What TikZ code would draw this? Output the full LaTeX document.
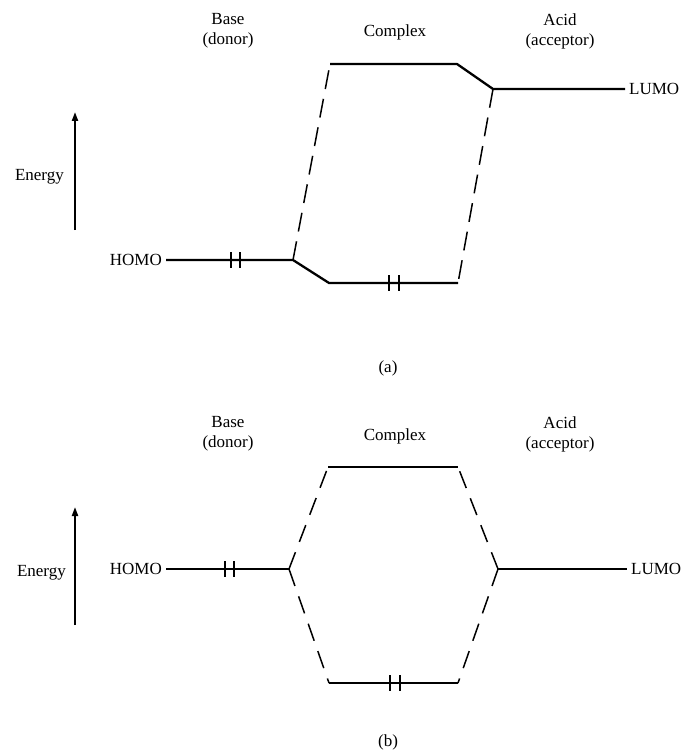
\documentclass[tikz,border=0pt]{standalone}
\usepackage{fontspec}
\setmainfont{Liberation Serif}
\usetikzlibrary{positioning,arrows.meta}
\tikzset{
  lbl/.style={font=\fontsize{17}{20}\selectfont, align=center, inner sep=1pt, text=black},
  endlbl/.style={lbl, inner sep=4pt},
  levelA/.style={line width=2.3pt, line join=round},
  levelB/.style={line width=1.8pt, line join=round},
  corrA/.style={dash pattern=on 19pt off 10pt, line width=1.5pt},
  corrB/.style={dash pattern=on 18pt off 11pt, line width=1.5pt},
  spin/.style={line width=1.6pt},
  up/.style={-{Triangle[length=9pt,width=6pt]}, line width=2pt},
}
\begin{document}
\begin{tikzpicture}[x=1pt,y=-1pt]
  \useasboundingbox (0,0) rectangle (690,751);
  % (a) weak interaction
  \node[lbl] (baseA) at (228,31) {Base\\(donor)};
  \node[lbl] (cplxA) at (395,32) {Complex};
  \node[lbl] (acidA) at (560,31) {Acid\\(acceptor)};
  \coordinate (eA0) at (75,230);
  \coordinate (eA1) at (75,112);
  \draw[up] (eA0) -- (eA1);
  \node[lbl, anchor=east] (enA) at (65,177) {Energy};
  \node[endlbl, anchor=east] (homoA) at (166,260) {HOMO};
  \node[endlbl, anchor=west] (lumoA) at (625,89) {LUMO};
  \coordinate (dA) at (293,260);
  \coordinate (bA1) at (329,283);
  \coordinate (bA2) at (458,283);
  \coordinate (tA1) at (330,64);
  \coordinate (tA2) at (457,64);
  \coordinate (aA) at (493,89);
  \draw[levelA] (homoA) -- (dA) -- (bA1) -- (bA2);
  \draw[levelA] (tA1) -- (tA2) -- (aA) -- (lumoA);
  \draw[corrA] (dA) -- (tA1);
  \draw[corrA] (aA) -- (bA2);
  \foreach \x in {231,240} \draw[spin] (\x,252) -- (\x,268);
  \foreach \x in {389,399} \draw[spin] (\x,275) -- (\x,291);
  \node[lbl] (capA) at (388,368) {(a)};
  % (b) strong interaction
  \node[lbl] (baseB) at (228,434) {Base\\(donor)};
  \node[lbl] (cplxB) at (395,436) {Complex};
  \node[lbl] (acidB) at (560,434) {Acid\\(acceptor)};
  \coordinate (eB0) at (75,625);
  \coordinate (eB1) at (75,507);
  \draw[up] (eB0) -- (eB1);
  \node[lbl, anchor=east] (enB) at (67,573) {Energy};
  \node[endlbl, anchor=east] (homoB) at (166,569) {HOMO};
  \node[endlbl, anchor=west] (lumoB) at (627,569) {LUMO};
  \coordinate (dB) at (289,569);
  \coordinate (aB) at (498,569);
  \coordinate (tB1) at (328,467);
  \coordinate (tB2) at (458,467);
  \coordinate (bB1) at (329,683);
  \coordinate (bB2) at (458,683);
  \draw[levelB] (homoB) -- (dB);
  \draw[levelB] (aB) -- (lumoB);
  \draw[levelB] (tB1) -- (tB2);
  \draw[levelB] (bB1) -- (bB2);
  \draw[corrB] (dB) -- (tB1);
  \draw[corrB] (dB) -- (bB1);
  \draw[corrB] (aB) -- (tB2);
  \draw[corrB] (aB) -- (bB2);
  \foreach \x in {225,234} \draw[spin] (\x,561) -- (\x,577);
  \foreach \x in {390,400} \draw[spin] (\x,675) -- (\x,691);
  \node[lbl] (capB) at (388,742) {(b)};
\end{tikzpicture}
\end{document}
